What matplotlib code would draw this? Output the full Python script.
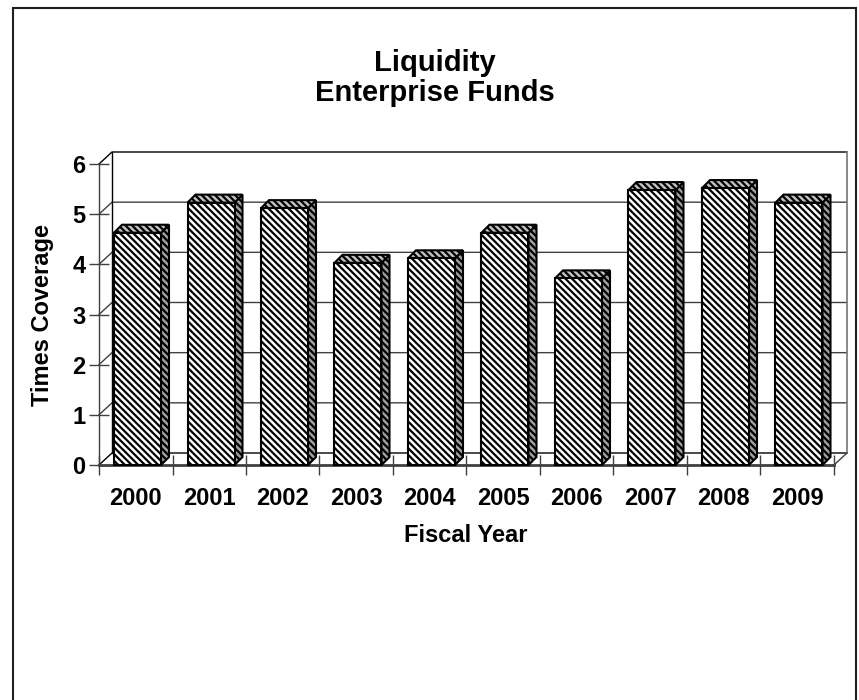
import matplotlib
matplotlib.use('Agg')
import matplotlib.pyplot as plt
from matplotlib.patches import Polygon
from matplotlib.lines import Line2D

years = ['2000','2001','2002','2003','2004','2005','2006','2007','2008','2009']
values = [4.63, 5.23, 5.12, 4.03, 4.12, 4.63, 3.72, 5.48, 5.52, 5.23]
yticks = [0, 1, 2, 3, 4, 5, 6]

W, H = 859, 700
plt.rcParams['font.family'] = ['Liberation Sans', 'DejaVu Sans']
plt.rcParams['hatch.linewidth'] = 1.6
fig = plt.figure(figsize=(W/100, H/100), dpi=100, facecolor='white')
# frame: open at the bottom
fig.add_artist(Line2D([12.5/W, 12.5/W, 856/W, 856/W], [0, 1-8/H, 1-8/H, 0], transform=fig.transFigure,
                      color='#202020', lw=1.5, solid_joinstyle='miter'))
L, R, T, B = 99, 834, 164, 465
ax = fig.add_axes([L/W, 1-B/H, (R-L)/W, (B-T)/H])
ax.set_xlim(0, 10); ax.set_ylim(0, 6)
ax.patch.set_visible(False)
for s in ax.spines.values():
    s.set_visible(False)
px = 10/(R-L); py = 6/(B-T)
dx, dy = 13*px, 12*py       # wall depth
bdx, bdy = 8*px, 8*py       # bar depth

kw = dict(clip_on=False)
# walls
for v in yticks:
    col = 'black' if v in (0, 6) else '#404040'
    ax.plot([0, dx, 10+dx], [v, v+dy, v+dy], color=col, lw=1.0, zorder=1, **kw)
ax.plot([dx, dx], [dy, 6+dy], color='black', lw=1.0, zorder=1, **kw)
ax.plot([10+dx, 10+dx], [dy, 6+dy], color='#808080', lw=1.3, zorder=1, **kw)
ax.plot([10, 10+dx], [0, dy], color='#404040', lw=1.0, zorder=1, **kw)
ax.plot([0, 0], [0, 6], color='#404040', lw=1.0, zorder=2, **kw)
ax.plot([0, 10], [0, 0], color='#404040', lw=2.0, zorder=2, **kw)

# bars
width = 47*px
hatch = '\\' * 5
for i, v in enumerate(values):
    x0 = i + 15*px
    ax.add_patch(Polygon([(x0+width, 0), (x0+width+bdx, bdy), (x0+width+bdx, v+bdy), (x0+width, v)],
                         facecolor='#a0a0a0', edgecolor='black', hatch=hatch, lw=1.5, zorder=3, **kw))
    ax.add_patch(Polygon([(x0, v), (x0+bdx, v+bdy), (x0+width+bdx, v+bdy), (x0+width, v)],
                         facecolor='#c0c0c0', edgecolor='black', hatch=hatch, lw=1.5, zorder=3, **kw))
    ax.bar(x0, v, width=width, align='edge', facecolor='white', edgecolor='black',
           hatch=hatch, lw=1.5, zorder=4, **kw)

ax.set_yticks(yticks)
ax.set_xticks(range(11))
ax.set_xticklabels([])
ax.set_xticks([i+0.5 for i in range(10)], years, minor=True)
ax.tick_params(axis='x', which='major', length=13.7, width=1.0, color='#404040', direction='inout')
ax.tick_params(axis='x', which='minor', length=0, pad=15.7, labelsize=17)
ax.tick_params(axis='y', length=14.4, width=1.0, color='#404040', direction='inout', pad=2.5, labelsize=17)
for t in ax.get_xticklabels(minor=True) + ax.get_yticklabels():
    t.set_fontweight('bold')

fig.text(435/W, 1-78/H, 'Liquidity\nEnterprise Funds', ha='center', va='center', fontsize=21,
         fontweight='bold', linespacing=1.1)
fig.text(466/W, 1-536/H, 'Fiscal Year', ha='center', va='center', fontsize=17, fontweight='bold')
fig.text(43/W, 1-315/H, 'Times Coverage', rotation=90, ha='center', va='center', fontsize=17, fontweight='bold')
fig.savefig('out.png', dpi=100)
